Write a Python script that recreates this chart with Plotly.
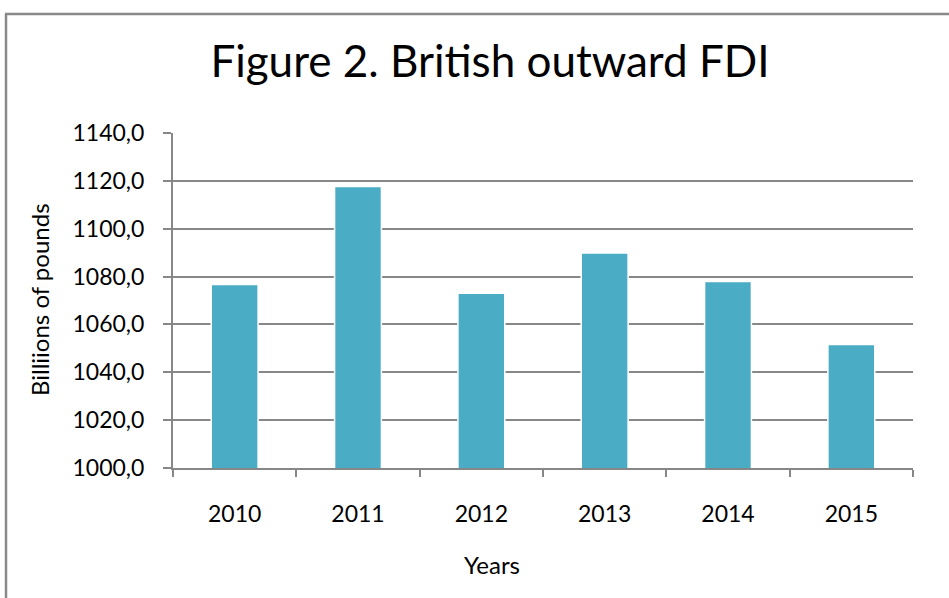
import plotly.graph_objects as go

years = ["2010", "2011", "2012", "2013", "2014", "2015"]
values = [1076.7, 1117.6, 1073.0, 1089.8, 1077.9, 1051.6]
y_ticks = [1000, 1020, 1040, 1060, 1080, 1100, 1120, 1140]

W, H = 949, 598
L, R, T, B = 173, 36, 133, 130
pw, ph = W - L - R, H - T - B

def px_x(x):
    return (x - L) / pw

def px_y(y):
    return (H - B - y) / ph

grid = "#878787"
font = "Lato, 'Open Sans', sans-serif"

fig = go.Figure()
fig.add_trace(go.Bar(
    x=years, y=values,
    marker=dict(color="#4BACC6", line=dict(color="white", width=1.5)),
    width=0.38,
))

fig.update_layout(
    width=W, height=H,
    margin=dict(l=L, r=R, t=T, b=B, autoexpand=False),
    paper_bgcolor="white", plot_bgcolor="white",
    separators=",.",
    showlegend=False,
    font=dict(family=font, color="black"),
    title=dict(text="Figure 2. British outward FDI", x=490 / W, xref="container", xanchor="center",
               y=1 - 62 / H, yref="container", yanchor="middle",
               font=dict(size=44, family=font, color="black")),
    xaxis=dict(
        showline=True, linecolor=grid, linewidth=2,
        ticks="outside", ticklen=7, tickcolor=grid, tickwidth=1.5,
        tickson="boundaries", showgrid=False,
        tickfont=dict(size=23), ticklabelstandoff=24,
    ),
    yaxis=dict(
        range=[1000, 1140], tickvals=y_ticks, tickformat=".1f",
        showline=True, linecolor=grid, linewidth=2,
        ticks="outside", ticklen=8, tickcolor=grid, tickwidth=1.5,
        showgrid=True, gridcolor=grid, gridwidth=1.5,
        tickfont=dict(size=23), ticklabelstandoff=14, zeroline=False,
    ),
    annotations=[
        dict(text="Billiions of pounds", x=px_x(39), y=px_y(300), xref="paper", yref="paper",
             textangle=-90, showarrow=False, font=dict(size=24), xanchor="center", yanchor="middle"),
        dict(text="Years", x=px_x(492), y=px_y(564), xref="paper", yref="paper",
             showarrow=False, font=dict(size=24), xanchor="center", yanchor="middle"),
    ],
    shapes=[
        dict(type="line", xref="paper", yref="paper", x0=px_x(5), x1=px_x(960), y0=px_y(14), y1=px_y(14),
             line=dict(color="#8a8a8a", width=2.5)),
        dict(type="line", xref="paper", yref="paper", x0=px_x(6), x1=px_x(6), y0=px_y(14), y1=px_y(610),
             line=dict(color="#8a8a8a", width=2.5)),
    ],
)

fig.write_html("out.html", config={"displayModeBar": False},
               post_script="document.body.style.margin='0';document.body.style.overflow='hidden';")
